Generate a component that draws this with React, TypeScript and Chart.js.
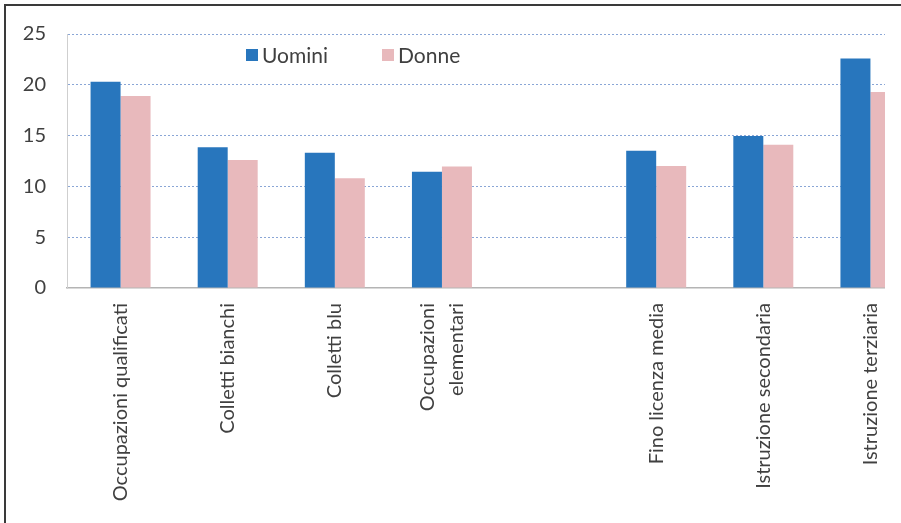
import React, { useEffect, useRef } from "react";
import { Chart, registerables } from "chart.js";

Chart.register(...registerables);

const categories: (string | string[])[] = [
  "Occupazioni qualificati",
  "Colletti bianchi",
  "Colletti blu",
  ["Occupazioni", "elementari"],
  "",
  "Fino licenza media",
  "Istruzione secondaria",
  "Istruzione terziaria",
];
const uomini: (number | null)[] = [20.3, 13.85, 13.3, 11.45, null, 13.5, 14.95, 22.6];
const donne: (number | null)[] = [18.9, 12.6, 10.8, 11.95, null, 12.0, 14.1, 19.3];
const seriesNames = ["Uomini", "Donne"];
const yTicks = [0, 5, 10, 15, 20, 25];

const BLUE = "#2876bd";
const PINK = "#e8b9bc";
const TEXT = "#404040";
const FONT = "Lato, 'Open Sans', sans-serif";

const rotatedLabels = {
  id: "rotatedLabels",
  afterDraw(chart: any) {
    const scale = chart.scales.x;
    const ctx = chart.ctx;
    const lineH = 29;
    const top = chart.chartArea.bottom + 15;
    ctx.save();
    ctx.fillStyle = TEXT;
    ctx.font = `20px ${FONT}`;
    ctx.textAlign = "right";
    ctx.textBaseline = "middle";
    (chart.data.labels as any[]).forEach((lab, i) => {
      const lines: string[] = Array.isArray(lab) ? lab : [lab];
      if (!lines.join("")) return;
      const x = scale.getPixelForTick(i);
      ctx.save();
      ctx.translate(x, top);
      ctx.rotate(-Math.PI / 2);
      lines.forEach((ln, j) => {
        ctx.fillText(ln, 0, (j - (lines.length - 1) / 2) * lineH);
      });
      ctx.restore();
    });
    ctx.restore();
  },
};

export default function App() {
  const ref = useRef<HTMLCanvasElement>(null);
  useEffect(() => {
    if (!ref.current) return;
    const chart = new Chart(ref.current, {
      type: "bar",
      data: {
        labels: categories as any,
        datasets: [
          { label: seriesNames[0], data: uomini, backgroundColor: BLUE, borderWidth: 0 },
          { label: seriesNames[1], data: donne, backgroundColor: PINK, borderWidth: 0 },
        ],
      },
      options: {
        responsive: false,
        animation: false,
        devicePixelRatio: 1,
        layout: { padding: { left: 0, top: 34, right: 0, bottom: 0 } },
        plugins: { legend: { display: false }, tooltip: { enabled: false } },
        datasets: { bar: { categoryPercentage: 0.56, barPercentage: 1 } },
        scales: {
          x: {
            grid: { display: false, drawTicks: false },
            border: { display: true, color: "#b4b4b4", width: 1.5 },
            ticks: { display: false, autoSkip: false },
            afterFit: (s: any) => {
              s.height = 235;
              s.paddingLeft = 0;
              s.paddingRight = 0;
            },
          },
          y: {
            min: 0,
            max: 25,
            afterBuildTicks: (s: any) => {
              s.ticks = yTicks.map((v) => ({ value: v }));
            },
            grid: {
              color: (ctx: any) => (ctx.tick && ctx.tick.value === 0 ? "rgba(0,0,0,0)" : "#8aa6d6"),
              lineWidth: 1,
              drawTicks: false,
            },
            border: { display: true, color: "#cfcfcf", width: 1, dash: [2, 2] },
            ticks: {
              color: TEXT,
              font: { family: FONT, size: 20 },
              padding: 21,
            },
            afterFit: (s: any) => {
              s.width = 67;
              s.paddingTop = 0;
              s.paddingBottom = 0;
            },
          },
        },
      } as any,
      plugins: [rotatedLabels],
    });
    return () => chart.destroy();
  }, []);

  return (
    <div style={{ position: "absolute", left: 0, top: 0, width: 901, height: 523, background: "#fff", overflow: "hidden" }}>
      <div style={{ position: "absolute", left: 0, top: 0, width: 885, height: 523, overflow: "hidden" }}>
        <canvas ref={ref} width={924} height={523} style={{ position: "absolute", left: 0, top: 0 }} />
      </div>
      <div
        style={{
          position: "absolute",
          left: 4,
          top: 4,
          width: 897,
          height: 519,
          borderLeft: "2px solid #3a3a3a",
          borderTop: "2px solid #3a3a3a",
          boxSizing: "border-box",
        }}
      />
      <div style={{ position: "absolute", left: 246, top: 49, width: 12, height: 12, background: BLUE }} />
      <div style={{ position: "absolute", left: 262, top: 42, font: `21px ${FONT}`, color: TEXT, lineHeight: "26px" }}>
        {seriesNames[0]}
      </div>
      <div style={{ position: "absolute", left: 382, top: 49, width: 12, height: 12, background: PINK }} />
      <div style={{ position: "absolute", left: 398, top: 42, font: `21px ${FONT}`, color: TEXT, lineHeight: "26px" }}>
        {seriesNames[1]}
      </div>
    </div>
  );
}
